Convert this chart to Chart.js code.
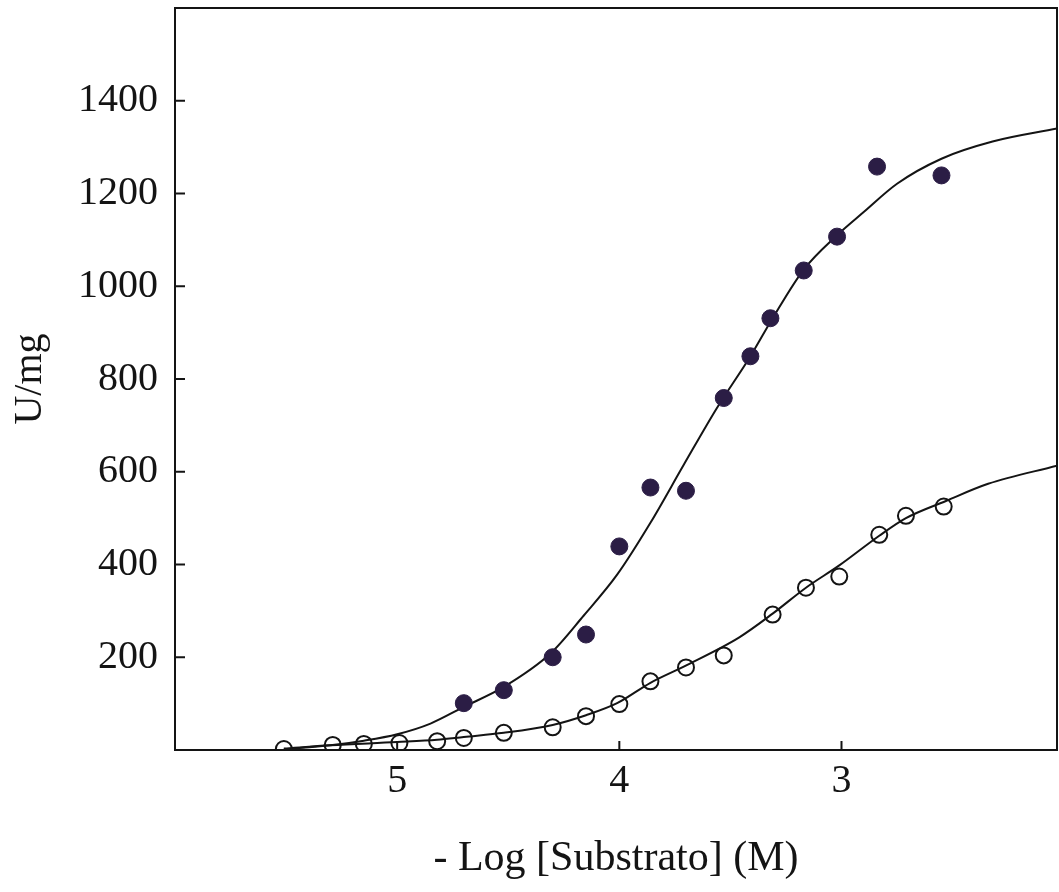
<!DOCTYPE html>
<html lang="es">
<head>
    <meta charset="UTF-8">
    <title>U/mg vs - Log [Substrato]</title>
    <script src="https://cdn.jsdelivr.net/npm/chart.js"></script>
    <style>
        html, body { margin: 0; padding: 0; background: #fff; }
        #wrap { width: 1059px; height: 892px; }
    </style>
</head>
<body>
    <div id="wrap"><canvas id="chart"></canvas></div>
    <script>
        // puntos medidos (rellenos y abiertos)
        const xFilled = [4.70, 4.52, 4.30, 4.15, 4.00, 3.86, 3.70, 3.53, 3.41, 3.32, 3.17, 3.02, 2.84, 2.55];
        const yFilled = [101, 129, 200, 249, 439, 566, 559, 759, 849, 931, 1034, 1107, 1258, 1239];
        const xOpen = [5.51, 5.29, 5.15, 4.99, 4.82, 4.70, 4.52, 4.30, 4.15, 4.00, 3.86, 3.70, 3.53, 3.31, 3.16, 3.01, 2.83, 2.71, 2.54];
        const yOpen = [2, 11, 13, 15, 19, 26, 37, 49, 73, 99, 148, 178, 204, 292, 350, 374, 464, 505, 525];

        // curvas ajustadas
        const xFitFilled = [5.51, 5.30, 5.15, 5.00, 4.85, 4.70, 4.52, 4.31, 4.16, 4.01, 3.86, 3.71, 3.56, 3.41, 3.31, 3.17, 3.02, 2.90, 2.75, 2.55, 2.32, 2.03];
        const yFitFilled = [2, 10, 20, 34, 57, 93, 136, 208, 290, 378, 490, 615, 738, 849, 931, 1036, 1110, 1160, 1221, 1275, 1312, 1340];
        const xFitOpen = [5.51, 5.30, 5.00, 4.82, 4.70, 4.52, 4.30, 4.15, 4.01, 3.86, 3.71, 3.46, 3.31, 3.16, 3.01, 2.83, 2.71, 2.53, 2.34, 2.03];
        const yFitOpen = [3, 10, 17, 22, 28, 37, 54, 75, 101, 145, 180, 243, 294, 350, 398, 462, 500, 537, 574, 613];

        const xTicks = [5, 4, 3];
        const yTicks = [200, 400, 600, 800, 1000, 1200, 1400];

        const toPts = (xs, ys) => xs.map((x, i) => ({ x: x, y: ys[i] }));

        const ink = '#141414';
        const dotColor = '#2b1d45';
        const font = 'Liberation Serif';

        // marco y marcas hacia dentro
        const frame = {
            id: 'frame',
            afterDraw(chart) {
                const { ctx, chartArea: a, scales } = chart;
                ctx.save();
                ctx.strokeStyle = ink;
                ctx.lineWidth = 2;
                ctx.strokeRect(a.left, a.top, a.right - a.left, a.bottom - a.top);
                ctx.beginPath();
                scales.y.ticks.forEach(t => {
                    const py = scales.y.getPixelForValue(t.value);
                    ctx.moveTo(a.left, py);
                    ctx.lineTo(a.left + 10, py);
                });
                scales.x.ticks.forEach(t => {
                    const px = scales.x.getPixelForValue(t.value);
                    ctx.moveTo(px, a.bottom);
                    ctx.lineTo(px, a.bottom - 9);
                });
                ctx.stroke();
                ctx.restore();
            }
        };

        new Chart(document.getElementById('chart'), {
            type: 'scatter',
            data: {
                datasets: [
                    {
                        data: toPts(xFitFilled, yFitFilled),
                        showLine: true,
                        borderColor: ink,
                        borderWidth: 2,
                        pointRadius: 0,
                        cubicInterpolationMode: 'monotone',
                        order: 3
                    },
                    {
                        data: toPts(xFitOpen, yFitOpen),
                        showLine: true,
                        borderColor: ink,
                        borderWidth: 2,
                        pointRadius: 0,
                        cubicInterpolationMode: 'monotone',
                        order: 3
                    },
                    {
                        data: toPts(xFilled, yFilled),
                        backgroundColor: dotColor,
                        borderColor: dotColor,
                        borderWidth: 1,
                        pointRadius: 8.5,
                        order: 1
                    },
                    {
                        data: toPts(xOpen, yOpen),
                        backgroundColor: 'rgba(255,255,255,0)',
                        borderColor: ink,
                        borderWidth: 2,
                        pointRadius: 8,
                        order: 1
                    }
                ]
            },
            options: {
                responsive: true,
                maintainAspectRatio: false,
                animation: false,
                layout: { autoPadding: false, padding: { top: 8, right: 2, left: 0, bottom: 0 } },
                plugins: {
                    legend: { display: false },
                    tooltip: { enabled: false }
                },
                scales: {
                    x: {
                        type: 'linear',
                        reverse: true,
                        min: 2.03,
                        max: 6,
                        afterBuildTicks: s => { s.ticks = xTicks.map(v => ({ value: v })); },
                        afterFit: s => { s.height = 142; s.paddingLeft = 0; s.paddingRight = 0; },
                        grid: { display: false, drawTicks: false },
                        border: { display: false },
                        ticks: {
                            color: ink,
                            padding: 7,
                            maxRotation: 0,
                            callback: v => String(v),
                            font: { family: font, size: 40 }
                        },
                        title: {
                            display: true,
                            text: '- Log [Substrato] (M)',
                            color: ink,
                            font: { family: font, size: 42 },
                            padding: { top: 0, bottom: 8 }
                        }
                    },
                    y: {
                        min: 0,
                        max: 1600,
                        afterBuildTicks: s => { s.ticks = yTicks.map(v => ({ value: v })); },
                        afterFit: s => { s.width = 175; s.paddingTop = 0; s.paddingBottom = 0; },
                        grid: { display: false, drawTicks: false },
                        border: { display: false },
                        ticks: {
                            color: ink,
                            padding: 17,
                            callback: v => String(v),
                            font: { family: font, size: 40 }
                        },
                        title: {
                            display: true,
                            text: 'U/mg',
                            color: ink,
                            font: { family: font, size: 40 },
                            padding: { top: 6, bottom: 0 }
                        }
                    }
                }
            },
            plugins: [frame]
        });
    </script>
</body>
</html>
